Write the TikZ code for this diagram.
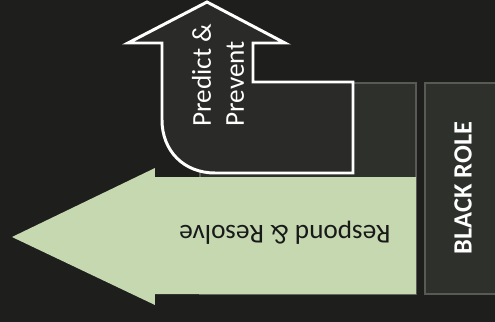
\documentclass[tikz,border=0pt]{standalone}
\usepackage{fontspec}
\setmainfont{Carlito}
\usepackage{tikz}
\usetikzlibrary{positioning,calc}
\definecolor{bgdark}{RGB}{30,31,28}
\definecolor{boxgray}{RGB}{46,48,44}
\definecolor{edgegray}{RGB}{88,90,86}
\definecolor{sage}{RGB}{197,216,176}
\definecolor{arrowfill}{RGB}{42,43,40}
\tikzset{
  rolebox/.style={fill=boxgray, draw=edgegray, line width=1.1pt},
  outlinearrow/.style={fill=arrowfill, draw=white, line width=1.7pt, line join=miter},
  lbl/.style={inner sep=0pt, font=\fontsize{15.5}{17}\selectfont},
}

\begin{document}
\begin{tikzpicture}[x=0.02cm, y=-0.02cm]
    \useasboundingbox (0,0) rectangle (495,322);
    \fill[bgdark] (0,0) rectangle (495,322);
    % role panels
    \draw[rolebox] (200,83) rectangle (416,294);
    \draw[rolebox] (425,83) rectangle (500,294);
    \node[lbl, white, font=\fontsize{15}{17}\selectfont\bfseries, rotate=90] (role) at (463,188) {BLACK ROLE};
    % green arrow to the left
    \fill[sage] (416,177) -- (155,177) -- (155,168) -- (12,237)
      -- (155,305) -- (155,294) -- (416,294) -- cycle;
    \node[lbl, black!90, rotate=180] (rr) at (285,233) {Respond \& Resolve};
    % bent arrow going up
    \draw[outlinearrow] (207,2) -- (285,43) -- (253,43) -- (253,82) -- (353,82)
      -- (353,173) -- (215,173) .. controls (184,173) and (162,151) .. (162,120)
      -- (162,43) -- (128,43) -- cycle;
    \node[lbl, white, rotate=90, align=left, anchor=west, font=\fontsize{15.5}{18.8}\selectfont] (pp) at (218,127) {Predict \&\\Prevent};
\end{tikzpicture}
\end{document}
